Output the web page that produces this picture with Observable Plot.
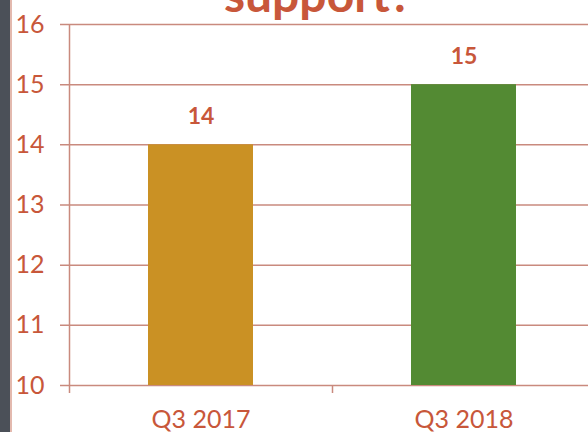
<!DOCTYPE html>
<html><head><meta charset="utf-8">
<script src="https://cdn.jsdelivr.net/npm/d3@7"></script>
<script src="https://cdn.jsdelivr.net/npm/@observablehq/plot@0.6"></script>
<style>
html,body{margin:0;padding:0;background:#fff;overflow:hidden;width:588px;height:432px}
#wrap{position:relative;width:588px;height:432px;overflow:hidden}
#chart{position:absolute;left:0;top:0;width:595px}
#chart svg{max-width:none !important}
#strip{position:absolute;left:0;top:0;width:10px;height:432px;background:#4B5058;border-right:2px solid #E3B9AE;z-index:2}
#title{position:absolute;top:-30px;left:0;width:636px;text-align:center;font-family:Lato,sans-serif;font-weight:bold;font-size:48px;color:#C8573A;line-height:48px;z-index:1}
</style></head>
<body>
<div id="wrap">
  <div id="chart"></div>
  <div id="title">support?</div>
  <div id="strip"></div>
</div>
<script>
const categories = ["Q3 2017", "Q3 2018"];
const values = [14, 15];
const barColors = ["#CA9124", "#538A33"];
const yTicks = [10, 11, 12, 13, 14, 15, 16];

const data = categories.map((c, i) => ({cat: c, value: values[i], color: barColors[i]}));
const textColor = "#C8573A";
const gridColor = "#C98A7E";

const chart = Plot.plot({
  width: 595, height: 432,
  marginLeft: 69, marginRight: 0, marginTop: 24, marginBottom: 47,
  x: {domain: categories, paddingInner: 0.6, paddingOuter: 0.3, axis: null},
  y: {domain: [10, 16], axis: null},
  style: {fontFamily: "Lato, sans-serif", background: "transparent", overflow: "visible", maxWidth: "none"},
  marks: [
    Plot.ruleY(yTicks, {y: d => d, stroke: gridColor, strokeWidth: 1.5, insetLeft: -9}),
    Plot.barY(data, {x: "cat", y1: 10, y2: "value", fill: "color"}),
    Plot.ruleX([categories[0]], {x: d => d, dx: -131.5, y1: 16, y2: 10, insetBottom: -8, stroke: gridColor, strokeWidth: 1.5}),
    Plot.ruleX(categories.slice(1), {x: d => d, dx: -131.5, y1: 10, y2: 10, insetBottom: -8, stroke: gridColor, strokeWidth: 1.5}),
    Plot.text(yTicks, {y: d => d, frameAnchor: "left", dx: -25, textAnchor: "end", text: d => String(d), fill: textColor, fontSize: 25}),
    Plot.text(data, {x: "cat", y: 10, dy: 34, text: "cat", fill: textColor, fontSize: 25}),
    Plot.text(data, {x: "cat", y: "value", dy: -28, text: d => String(d.value), fill: textColor, fontSize: 23, fontWeight: "bold"})
  ]
});
document.getElementById("chart").appendChild(chart);
</script>
</body></html>
